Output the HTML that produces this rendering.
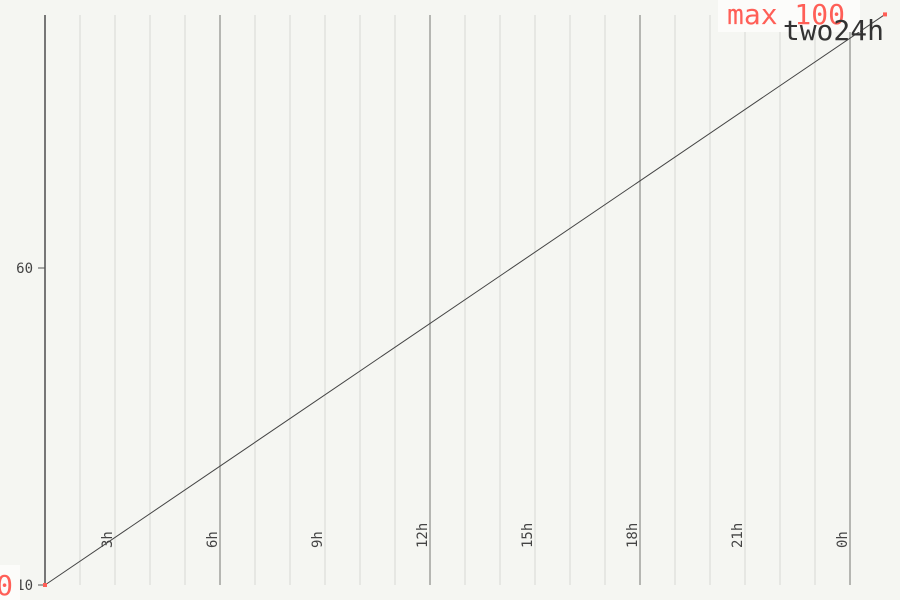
<!DOCTYPE html>
<html><head><meta charset="utf-8"><style>
body{margin:0;background:#f5f6f2;}
svg{display:block;font-family:"DejaVu Sans Mono","Liberation Mono",monospace;}
</style></head><body>
<svg id="c" width="900" height="600"></svg>
<script>
const hours=[1,25];
const values=[10,100];
const yTicks=[10,60];
const xLabels=["3h","6h","9h","12h","15h","18h","21h","0h"];
const xLabelHours=[3,6,9,12,15,18,21,24];
const title="two24h";
const NS="http://www.w3.org/2000/svg";
const svg=document.getElementById('c');
const x=h=>45+(h-1)*35;
const y=v=>585-(v-10)*(317/50);
function mk(t,a,txt){const e=document.createElementNS(NS,t);for(const k in a)e.setAttribute(k,a[k]);if(txt!==undefined)e.textContent=txt;svg.appendChild(e);return e;}
for(let h=2;h<=24;h++){
 const major=h%6===0;
 const g=mk('line',{x1:x(h),x2:x(h),y1:15,y2:585,stroke:major?'#b5b6b2':'#e6e7e3','stroke-width':2});
 
 
}
const ax=mk('line',{x1:45,x2:45,y1:15,y2:585,stroke:'#777','stroke-width':2});


yTicks.forEach(v=>{
 const t=mk('line',{x1:38,x2:45,y1:y(v),y2:y(v),stroke:'#555','stroke-width':1});
 
 
 const l=mk('text',{x:33,y:y(v)+5,'text-anchor':'end','font-size':14,fill:'#444'},v);
 
 
});
xLabels.forEach((s,i)=>{
 const px=x(xLabelHours[i])-8;
 const l=mk('text',{x:0,y:0,'font-size':14,fill:'#444',transform:`translate(${px+5},548) rotate(-90)`},s);
 
 
});
const pts=hours.map((h,i)=>x(h)+','+y(values[i])).join(' ');
const ln=mk('polyline',{points:pts,fill:'none',stroke:'#444','stroke-width':1});


hours.forEach((h,i)=>{
 const d=mk('rect',{x:x(h)-2,y:y(values[i])-2,width:4,height:4,fill:'#ff5f57'});
 
 
});
const b1=mk('rect',{x:-60,y:565,width:80,height:35,fill:'#fcfcfa'});


const mn=mk('text',{x:13,y:595,'text-anchor':'end','font-size':28,fill:'#ff5f57'},'min '+values[0]);


const b2=mk('rect',{x:718,y:0,width:142,height:32,fill:'#fcfcfa'});


const mx=mk('text',{x:727,y:24,'font-size':28,fill:'#ff5f57'},'max '+values[1]);


const tt=mk('text',{x:884,y:40,'text-anchor':'end','font-size':28,fill:'#333'},title);


</script>
</body></html>
